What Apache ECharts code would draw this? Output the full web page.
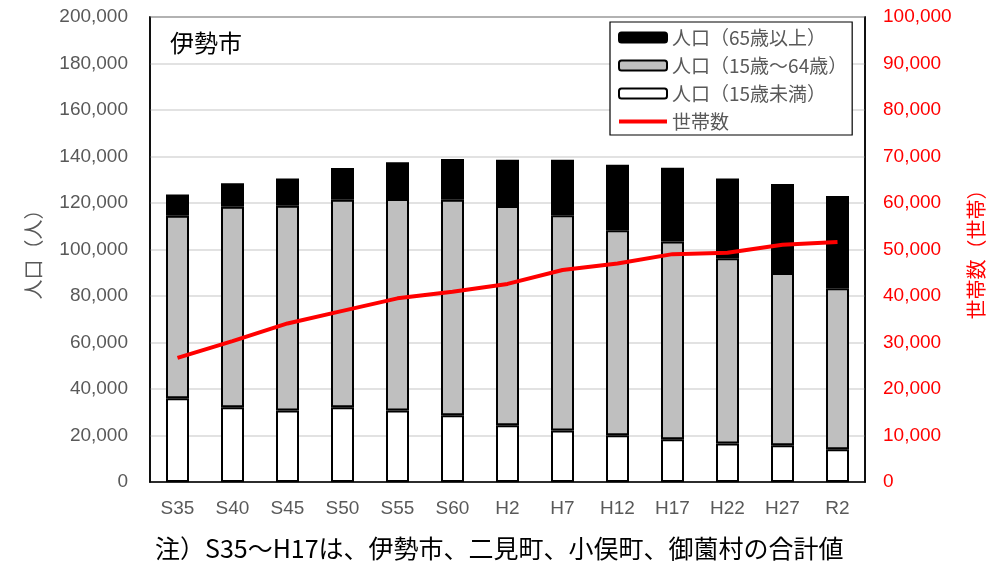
<!DOCTYPE html>
<html><head><meta charset="utf-8">
<script src="https://cdn.jsdelivr.net/npm/echarts@6/dist/echarts.min.js"></script>
<style>html,body{margin:0;padding:0;background:#fff}#c{width:1000px;height:570px}</style>
</head><body><div id="c"></div>
<script>
const categories = ['S35','S40','S45','S50','S55','S60','H2','H7','H12','H17','H22','H27','R2'];
const popUnder15 = [36000,32100,30800,32100,30800,28700,24400,22200,20100,18400,16600,15800,14100];
const pop15to64  = [78500,86300,88000,89300,90900,92700,94300,92500,88200,85000,79600,74100,69200];
const pop65plus  = [9200,10100,11700,13700,15800,17500,19900,23900,28200,31800,34300,38300,39700];
const households = [26700,30300,34100,36800,39500,40900,42600,45600,47000,49000,49300,51000,51600];
const seriesNames = ['人口（65歳以上）','人口（15歳～64歳）','人口（15歳未満）','世帯数'];

const FONT = "'Liberation Sans', 'Noto Sans CJK JP', sans-serif";
const JP = "'Noto Sans CJK JP', sans-serif";
const chart = echarts.init(document.getElementById('c'));
const fmt = v => v.toLocaleString('en-US');
const barStyle = c => ({color: c, borderColor: '#000', borderWidth: 2});
chart.setOption({
  animation: false,
  textStyle: {fontFamily: FONT},
  grid: {left: 150, right: 135, top: 17, bottom: 88, show: true, borderColor: '#000', borderWidth: 1.5, backgroundColor: 'transparent'},
  legend: {
    orient: 'vertical', left: 610, top: 22,
    data: [seriesNames[0], seriesNames[1], seriesNames[2],
      {name: seriesNames[3], icon: 'path://M0,0M48,10M0,3L48,3L48,7L0,7Z'}],
    itemWidth: 48, itemHeight: 10, itemGap: 9, itemTextGap: 5,
    padding: [6, 5, 4, 8],
    backgroundColor: '#fff', borderColor: '#000', borderWidth: 1.2,
    textStyle: {color: '#595959', fontSize: 19, fontFamily: JP}
  },
  xAxis: {
    type: 'category', data: categories,
    axisLine: {lineStyle: {color: '#000', width: 1.5}},
    axisTick: {show: false},
    axisLabel: {color: '#595959', fontSize: 19, margin: 17, fontFamily: FONT}
  },
  yAxis: [{
    type: 'value', min: 0, max: 200000, interval: 20000, position: 'left',
    name: '人口（人）', nameLocation: 'middle', nameGap: 107, nameRotate: 90,
    nameTextStyle: {color: '#595959', fontSize: 20, fontFamily: JP},
    axisLine: {show: true, lineStyle: {color: '#000', width: 1.5}},
    axisTick: {show: false},
    axisLabel: {color: '#595959', fontSize: 19, margin: 22, formatter: fmt},
    splitLine: {lineStyle: {color: '#d9d9d9', width: 1.5}}
  }, {
    type: 'value', min: 0, max: 100000, interval: 10000, position: 'right',
    name: '世帯数（世帯）', nameLocation: 'middle', nameGap: 101, nameRotate: 90,
    nameTextStyle: {color: '#ff0000', fontSize: 20, fontFamily: JP},
    axisLine: {show: true, lineStyle: {color: '#000', width: 1.5}},
    axisTick: {show: false},
    axisLabel: {color: '#ff0000', fontSize: 19, margin: 18, formatter: fmt},
    splitLine: {show: false}
  }],
  series: [
    {name: seriesNames[2], type: 'bar', stack: 'p', data: popUnder15, barWidth: 23, itemStyle: barStyle('#ffffff')},
    {name: seriesNames[1], type: 'bar', stack: 'p', data: pop15to64, barWidth: 23, itemStyle: barStyle('#bfbfbf')},
    {name: seriesNames[0], type: 'bar', stack: 'p', data: pop65plus, barWidth: 23, itemStyle: barStyle('#000000')},
    {name: seriesNames[3], type: 'line', yAxisIndex: 1, data: households, symbol: 'none',
     lineStyle: {color: '#ff0000', width: 4}, itemStyle: {color: '#ff0000'}, z: 5}
  ],
  graphic: [
    {type: 'text', left: 170, top: 31, style: {text: '伊勢市', fontSize: 24, fill: '#000', fontFamily: JP}},
    {type: 'text', left: 155, top: 536, style: {text: '注）S35～H17は、伊勢市、二見町、小俣町、御薗村の合計値', fontSize: 25, fill: '#000', fontFamily: JP}}
  ]
});
</script></body></html>
